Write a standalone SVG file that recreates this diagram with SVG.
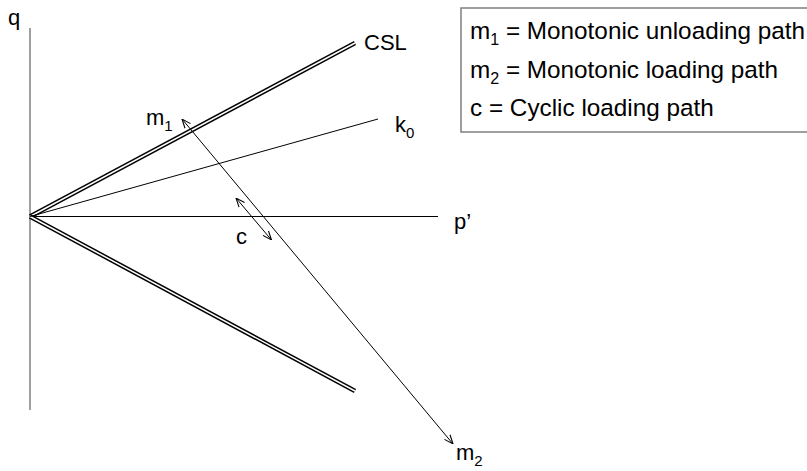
<svg xmlns="http://www.w3.org/2000/svg" width="807" height="471" viewBox="0 0 807 471">
<defs>
<style>
text{font-family:"Liberation Sans",Arial,sans-serif;font-size:22px;fill:#000}
.sub{font-size:15px}
.thin{stroke:#000;stroke-width:1;fill:none}
.dbl-o{stroke:#000;stroke-width:4.5;fill:none}
.dbl-i{stroke:#fff;stroke-width:1.5;fill:none}
.leg text{font-size:24.3px}
.leg .sub{font-size:16px}
</style>
<marker id="ah" viewBox="0 0 10 10" refX="10" refY="5" markerWidth="9" markerHeight="9" markerUnits="userSpaceOnUse" orient="auto-start-reverse">
<path d="M0,1 L10,5 L0,9" fill="none" stroke="#000" stroke-width="1.2"/>
</marker>
</defs>
<rect width="807" height="471" fill="#fff"/>
<g id="connectors">
<line x1="30" y1="28" x2="30" y2="410" stroke="#7f7f7f" stroke-width="1.5"/>
<line class="thin" x1="30" y1="216.5" x2="438" y2="216.5"/>
<line class="dbl-o" x1="30" y1="216.5" x2="355" y2="43"/>
<line class="dbl-i" x1="30" y1="216.5" x2="355" y2="43"/>
<line class="dbl-o" x1="30" y1="216.5" x2="355" y2="391"/>
<line class="dbl-i" x1="30" y1="216.5" x2="355" y2="391"/>
<line class="thin" x1="30" y1="216.5" x2="378" y2="119"/>
<line class="thin" x1="182" y1="119" x2="453" y2="444" marker-start="url(#ah)" marker-end="url(#ah)"/>
<line class="thin" x1="236" y1="198" x2="271.5" y2="240" marker-start="url(#ah)" marker-end="url(#ah)"/>
</g>
<g id="label-q"><text x="8" y="25">q</text></g>
<g id="label-csl"><text x="364" y="50">CSL</text></g>
<g id="label-k0"><text x="395" y="132">k<tspan class="sub" dy="6">0</tspan></text></g>
<g id="label-m1"><text x="146" y="125">m<tspan class="sub" dy="6">1</tspan></text></g>
<g id="label-c"><text x="236" y="244">c</text></g>
<g id="label-p"><text x="454" y="229">p’</text></g>
<g id="label-m2"><text x="456" y="460">m<tspan class="sub" dy="6">2</tspan></text></g>
<g id="legend" class="leg">
<rect x="461" y="8" width="360" height="124" fill="#fff" stroke="#7f7f7f" stroke-width="1.5"/>
<text x="470" y="39">m<tspan class="sub" dy="6">1</tspan><tspan dy="-6"> = Monotonic unloading path</tspan></text>
<text x="470" y="78">m<tspan class="sub" dy="6">2</tspan><tspan dy="-6"> = Monotonic loading path</tspan></text>
<text x="470" y="116">c = Cyclic loading path</text>
</g>
</svg>
